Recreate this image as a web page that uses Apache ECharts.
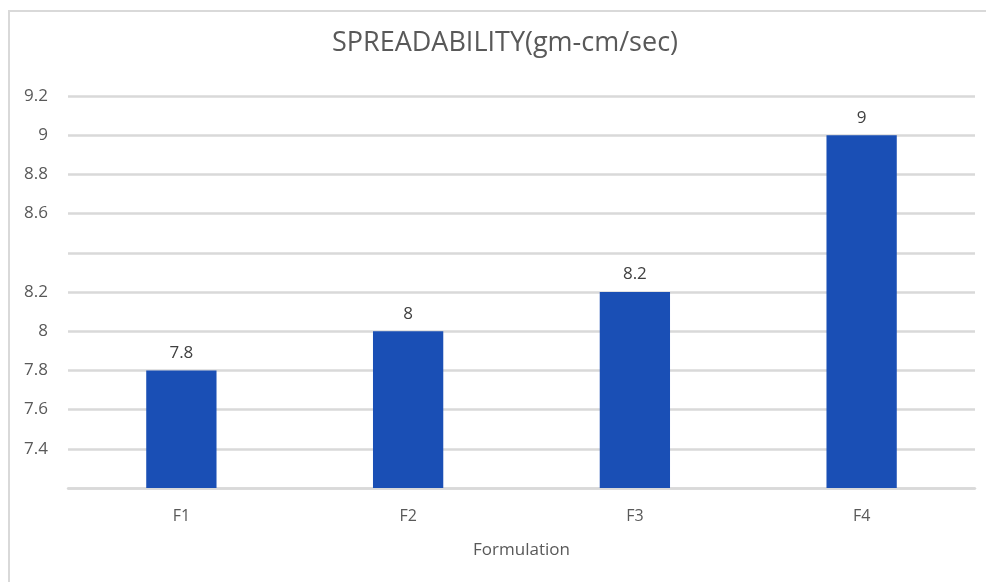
<!DOCTYPE html>
<html>
<head>
<meta charset="utf-8">
<script src="https://cdn.jsdelivr.net/npm/echarts@6/dist/echarts.min.js"></script>
<style>
html,body{margin:0;padding:0;background:#fff;}
#frame{position:absolute;left:8px;top:10px;width:990px;height:580px;border-left:2px solid #d9d9d9;border-top:2px solid #d9d9d9;box-sizing:border-box;}
#chart{position:absolute;left:0;top:0;width:986px;height:582px;}
</style>
</head>
<body>
<div id="frame"></div>
<div id="chart"></div>
<script>
const categories = ['F1', 'F2', 'F3', 'F4'];
const values = [7.8, 8, 8.2, 9];
const hiddenTickLabels = ['8.4', '7.2'];
const titleText = 'SPREADABILITY(gm-cm/sec)';
const xAxisName = 'Formulation';

const chart = echarts.init(document.getElementById('chart'));
chart.setOption({
  animation: false,
  title: {
    text: titleText,
    left: 500, textAlign: 'center', top: 25,
    textStyle: { fontFamily: 'Open Sans', fontSize: 27, fontWeight: 'normal', color: '#595959' }
  },
  grid: { left: 68, right: 11, top: 96, bottom: 94, containLabel: false },
  xAxis: {
    type: 'category',
    data: categories,
    name: xAxisName,
    nameLocation: 'middle',
    nameGap: 54,
    nameTextStyle: { fontFamily: 'Open Sans', fontSize: 17, color: '#595959' },
    axisLine: { lineStyle: { color: '#d9d9d9', width: 2.5 } },
    axisTick: { show: false },
    axisLabel: { fontFamily: 'Open Sans', fontSize: 16, color: '#595959', margin: 20 }
  },
  yAxis: {
    type: 'value',
    min: 7.2, max: 9.2, interval: 0.2,
    axisLine: { show: false },
    axisTick: { show: false },
    splitLine: { lineStyle: { color: '#d9d9d9', width: 2.5 } },
    axisLabel: {
      fontFamily: 'Open Sans', fontSize: 17, color: '#595959', margin: 20,
      formatter: function (v) {
        const s = String(Math.round(v * 10) / 10);
        return hiddenTickLabels.indexOf(s) >= 0 ? '' : s;
      }
    }
  },
  series: [{
    type: 'bar',
    data: values,
    barWidth: '31%',
    itemStyle: { color: '#1a4fb5' },
    label: {
      show: true, position: 'top', distance: 9,
      fontFamily: 'Open Sans', fontSize: 17, color: '#404040'
    }
  }]
});
</script>
</body>
</html>
